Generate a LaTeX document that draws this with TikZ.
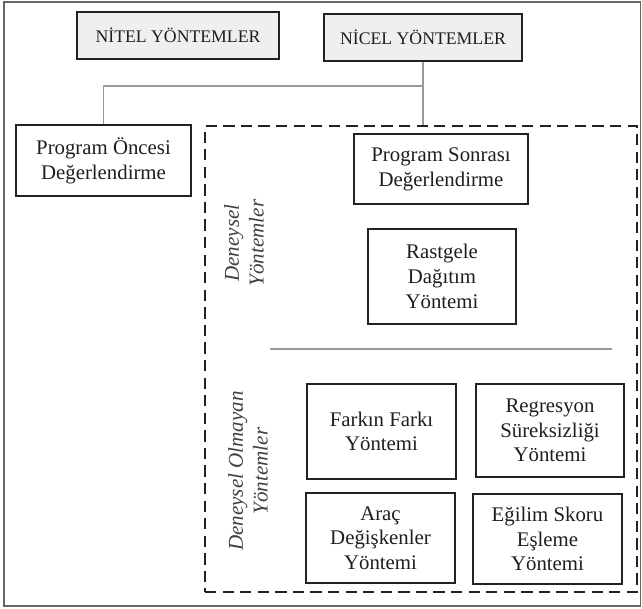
\documentclass[tikz,border=0pt]{standalone}
\usepackage{fontspec}
\setmainfont{Liberation Serif}
\usepackage{xcolor}
\usetikzlibrary{calc}

\definecolor{kenar}{HTML}{222222}
\definecolor{yazi}{HTML}{1E1E1E}
\definecolor{dolgu}{HTML}{EFEFEF}
\definecolor{cizgi}{HTML}{9A9A9A}
\newcommand{\pxu}{0.25mm}

\tikzset{
  kutu/.style={draw=kenar, line width=1.4pt, text=yazi, align=center, inner sep=2pt,
    font=\fontsize{14.8}{17.6}\selectfont},
  ustkutu/.style={kutu, fill=dolgu, font=\fontsize{12.6}{15}\selectfont},
  grupkutu/.style={draw=kenar, line width=1.4pt, dash pattern=on 8pt off 4.5pt},
  yanyazi/.style={rotate=90, align=center, text=yazi!85!white, font=\fontsize{15}{17.5}\selectfont\itshape},
  baglanti/.style={draw=cizgi, line width=0.8pt},
  cerceve/.style={draw=gray!80!black, line width=1pt}
}

\begin{document}
\begin{tikzpicture}[x=0.25mm,y=-0.25mm]
\useasboundingbox (0,0) rectangle (642,608);
\draw [cerceve] (4,2) rectangle (640.5,606);

% ust kutular
\node [ustkutu, minimum width=202*\pxu, minimum height=47*\pxu] (nitel) at (178,35.5) {NİTEL YÖNTEMLER};
\node [ustkutu, minimum width=198*\pxu, minimum height=47*\pxu] (nicel) at (423,37.5) {NİCEL YÖNTEMLER};

% program oncesi ve grup
\node [kutu, minimum width=175*\pxu, minimum height=71*\pxu] (once) at (103.5,160.5) {Program Öncesi\\Değerlendirme};
\node [grupkutu, minimum width=432*\pxu, minimum height=466*\pxu] (grup) at (421,359) {};

\coordinate (kol) at (nicel.south |- 0,86);
\draw [baglanti] (nicel.south) -- (kol) -| (once.north);
\draw [baglanti] (kol) -- (kol |- grup.north);

% deneysel
\node [kutu, minimum width=174*\pxu, minimum height=70*\pxu] (sonra) at (441,169) {Program Sonrası\\Değerlendirme};
\node [kutu, minimum width=148*\pxu, minimum height=95*\pxu] (rastgele) at (442,276.5) {Rastgele\\Dağıtım\\Yöntemi};
\node [yanyazi] (deneysel) at (244,243) {Deneysel\\Yöntemler};

\draw [baglanti] (270,349) -- (612,349);

% deneysel olmayan
\node [yanyazi] (olmayan) at (248,471) {Deneysel Olmayan\\Yöntemler};
\node [kutu, minimum width=149*\pxu, minimum height=95*\pxu] (fark) at (381.5,431.5) {Farkın Farkı\\Yöntemi};
\node [kutu, minimum width=148*\pxu, minimum height=93*\pxu] (regresyon) at (550,430.5) {Regresyon\\Süreksizliği\\Yöntemi};
\node [kutu, minimum width=149*\pxu, minimum height=90*\pxu] (arac) at (380.5,538) {Araç\\Değişkenler\\Yöntemi};
\node [kutu, minimum width=149*\pxu, minimum height=90*\pxu] (egilim) at (547.5,539) {Eğilim Skoru\\Eşleme\\Yöntemi};
\end{tikzpicture}
\end{document}
